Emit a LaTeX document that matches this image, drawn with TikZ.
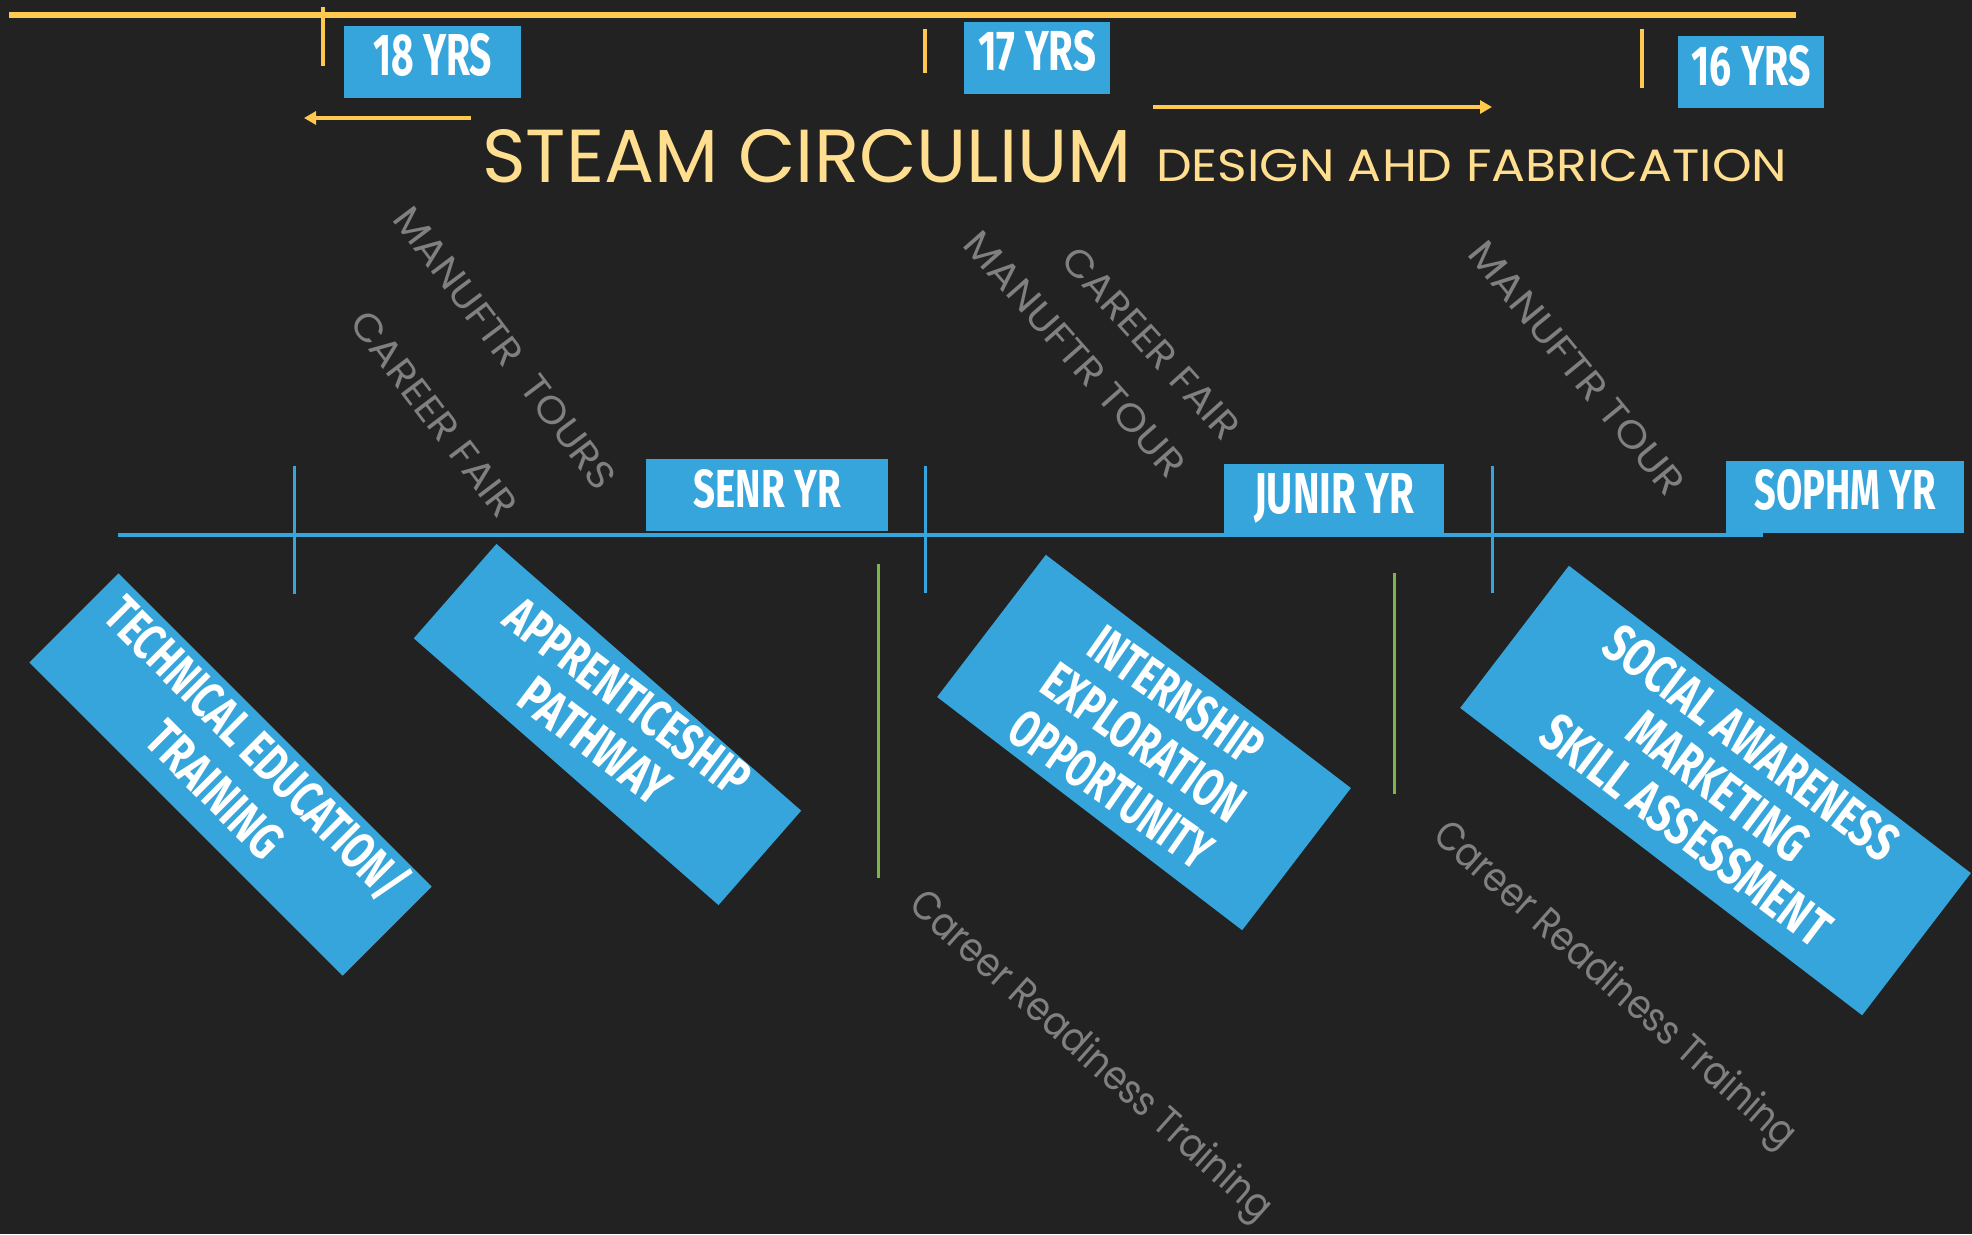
\documentclass[tikz,border=0pt]{standalone}
\usepackage{fontspec}
\usepackage{graphicx}
\usetikzlibrary{arrows.meta}
\newfontfamily\dinfont{Fira Sans}
\newfontfamily\avfont{Poppins}
\newcommand\fitt[3]{\resizebox{#1pt}{#2pt}{#3}}
\definecolor{bg}{HTML}{222222}
\definecolor{sblue}{HTML}{35A5DB}
\definecolor{syel}{HTML}{FFC84F}
\definecolor{stitle}{HTML}{FFDF8F}
\definecolor{sgray}{HTML}{808080}
\definecolor{sgreen}{HTML}{7DB648}
\begin{document}
\begin{tikzpicture}[x=1pt,y=-1pt,
  yrbox/.style={fill=sblue, text=white, inner sep=0pt, anchor=north west, font=\dinfont\bfseries},
  rbox/.style={fill=sblue, inner sep=0pt},
  rtext/.style={text=white, inner sep=0pt, align=center, font=\dinfont\bfseries\fontsize{50pt}{#1pt}\selectfont},
  gtext/.style={text=sgray, inner sep=0pt, font=\avfont},
  ttext/.style={text=stitle, inner sep=0pt, font=\avfont},
  yline/.style={draw=syel, line width=#1},
  bline/.style={draw=sblue, line width=#1},
  gline/.style={draw=sgreen, line width=3pt},
  yarrow/.style={draw=syel, line width=4.5pt, -{Triangle[length=12pt,width=13pt]}}
]
\path[use as bounding box, fill=bg] (0,0) rectangle (1972,1234);

% top yellow timeline
\draw[yline=5.5pt] (9,15) -- (1796,15);
\draw[yline=3.5pt] (323,7) -- (323,66);
\draw[yline=3.5pt] (925,29) -- (925,73);
\draw[yline=3.5pt] (1642,29) -- (1642,88);

% age boxes
\node[yrbox, minimum width=177pt, text height=49pt, text depth=23pt] (y18) at (344,26) {\fitt{119}{42}{18 YRS}};
\node[yrbox, minimum width=146pt, text height=48pt, text depth=24pt] (y17) at (964,22) {\fitt{118}{40}{17 YRS}};
\node[yrbox, minimum width=146pt, text height=49pt, text depth=23pt] (y16) at (1678,36) {\fitt{119}{40}{16 YRS}};

% arrows
\coordinate (la0) at (471,118); \coordinate (la1) at (304,118);
\coordinate (ra0) at (1153,107); \coordinate (ra1) at (1492,107);
\draw[yarrow] (la0) -- (la1);
\draw[yarrow] (ra0) -- (ra1);

% title
\node[ttext, anchor=base west] (title) at (482,182) {\fitt{649}{53}{STEAM CIRCULIUM}};
\node[ttext, anchor=base west] (subtitle) at (1156,181) {\fitt{631}{32}{DESIGN AHD FABRICATION}};

% blue timeline
\draw[bline=3.5pt] (118,535) -- (1763,535);
\draw[bline=3pt] (294,466) -- (294,594);
\draw[bline=3pt] (925,466) -- (925,593);
\draw[bline=3pt] (1492,466) -- (1492,593);

% green lines
\draw[gline] (878,564) -- (878,878);
\draw[gline] (1394,573) -- (1394,794);

% year boxes
\node[yrbox, minimum width=242pt, text height=48pt, text depth=24pt] (senr) at (646,459) {\fitt{147}{38}{SENR YR}};
\node[yrbox, minimum width=220pt, text height=49pt, text depth=20pt] (junir) at (1224,464) {\fitt{160}{40}{JUNIR YR}};
\node[yrbox, minimum width=238pt, text height=48pt, text depth=24pt] (sophm) at (1726,461) {\fitt{181}{40}{SOPHM YR}};

% gray labels
\node[gtext, rotate=-53] (mt1) at (505,348) {\fitt{343}{27}{MANUFTR\ \ TOURS}};
\node[gtext, rotate=-52.8] (cf1) at (434,414) {\fitt{248}{27}{CAREER FAIR}};
\node[gtext, rotate=-48.6] (mt2) at (1075,354) {\fitt{313}{27}{MANUFTR TOUR}};
\node[gtext, rotate=-48] (cf2) at (1151,343) {\fitt{244}{27}{CAREER FAIR}};
\node[gtext, rotate=-50.7] (mt3) at (1577,368) {\fitt{316}{27}{MANUFTR TOUR}};
\node[gtext, rotate=-41.8, anchor=base] (cr1) at (1083,1065) {\fitt{472}{31}{Career Readiness Training}};
\node[gtext, rotate=-41.5, anchor=base] (cr2) at (1607,994) {\fitt{470}{31}{Career Readiness Training}};

% rotated boxes
\node[rbox, rotate=-45, minimum width=443pt, minimum height=126pt] (b1) at (230.5,774.5) {};
\node[rbox, rotate=-41.2, minimum width=405pt, minimum height=125.5pt] (b2) at (607.5,724.5) {};
\node[rbox, rotate=-37.4, minimum width=384pt, minimum height=179pt] (b3) at (1144,742.5) {};
\node[rbox, rotate=-37.4, minimum width=506pt, minimum height=179pt] (b4) at (1715.5,790.5) {};

\node[rtext=58.6, rotate=-45] (t1) at (235.7,769.3) {\fitt{403}{37}{TECHNICAL EDUCATION\smash{/}}\\\fitt{170}{37}{TRAINING}};
\node[rtext=55.7, rotate=-37] (t2) at (611.6,719.1) {\fitt{292}{37}{APPRENTICESHIP}\\\fitt{174}{37}{PATHWAY}};
\node[rtext=57, rotate=-35] (t3) at (1144,742.5) {\fitt{200}{38}{INTERNSHIP}\\\fitt{234}{38}{EXPLORATION}\\\fitt{234}{38}{OPPORTUNITY}};
\node[rtext=54.5, rotate=-37] (t4) at (1718.7,786.3) {\fitt{353}{38}{SOCIAL AWARENESS}\\\fitt{211}{38}{MARKETING}\\\fitt{347}{38}{SKILL ASSESSMENT}};
\end{tikzpicture}
\end{document}
